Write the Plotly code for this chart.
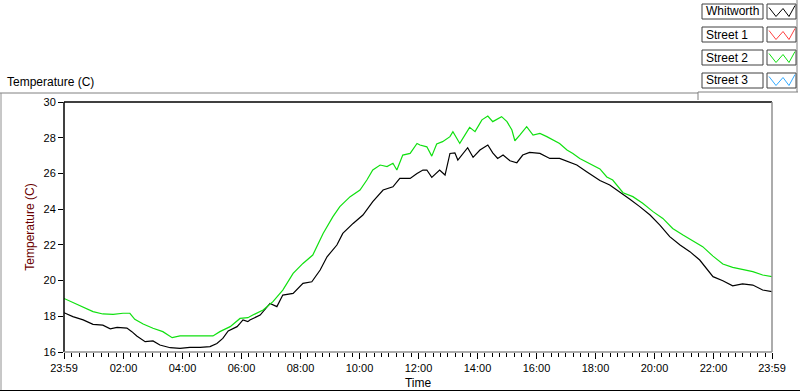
import plotly.graph_objects as go
from datetime import datetime

# ---------------- data ----------------
whitworth_times = ["23:59", "00:17", "00:38", "00:58", "01:18", "01:33", "01:47", "02:07", "02:17", "02:27",
                   "02:44", "03:00", "03:14", "03:35", "03:55", "04:15", "04:36", "04:56", "05:10", "05:22",
                   "05:33", "05:51", "05:57", "06:03", "06:13", "06:17", "06:38", "06:58", "07:12", "07:24",
                   "07:45", "08:05", "08:23", "08:40", "08:54", "09:14", "09:26", "09:47", "10:07", "10:27",
                   "10:48", "11:08", "11:22", "11:43", "11:57", "12:03", "12:09", "12:17", "12:27", "12:43",
                   "12:54", "13:04", "13:14", "13:20", "13:30", "13:40", "13:51", "14:05", "14:21", "14:31",
                   "14:41", "14:52", "15:06", "15:20", "15:32", "15:46", "16:07", "16:27", "16:47", "17:04",
                   "17:22", "17:42", "18:03", "18:09", "18:29", "18:49", "19:10", "19:30", "19:51", "20:11",
                   "20:31", "20:52", "21:12", "21:32", "21:46", "21:59", "22:19", "22:39", "22:59", "23:20",
                   "23:40", "23:59"]
whitworth_temp = [18.2, 17.98, 17.8, 17.55, 17.5, 17.3, 17.38, 17.34, 17.14, 16.9,
                  16.58, 16.62, 16.39, 16.24, 16.2, 16.26, 16.26, 16.3, 16.48, 16.76,
                  17.18, 17.42, 17.6, 17.8, 17.7, 17.79, 18.07, 18.72, 18.54, 19.19,
                  19.28, 19.84, 19.93, 20.59, 21.33, 21.99, 22.64, 23.2, 23.67, 24.42,
                  25.07, 25.25, 25.72, 25.72, 26.0, 26.1, 26.19, 26.19, 25.78, 26.19,
                  25.91, 27.12, 27.15, 26.75, 27.12, 27.44, 26.9, 27.31, 27.59, 27.15,
                  26.84, 27.03, 26.71, 26.6, 27.03, 27.18, 27.12, 26.84, 26.84, 26.65,
                  26.47, 26.1, 25.72, 25.6, 25.35, 24.98, 24.55, 24.14, 23.67, 23.11,
                  22.46, 21.99, 21.62, 21.15, 20.69, 20.22, 19.99, 19.71, 19.81, 19.75,
                  19.47, 19.38]

street2_times = ["23:59", "00:17", "00:38", "00:58", "01:18", "01:39", "01:59", "02:13", "02:23", "02:40",
                 "03:00", "03:20", "03:39", "03:55", "04:21", "05:02", "05:16", "05:37", "05:57", "06:13",
                 "06:23", "06:44", "07:04", "07:24", "07:45", "08:05", "08:25", "08:46", "09:06", "09:20",
                 "09:41", "10:01", "10:15", "10:27", "10:42", "10:56", "11:08", "11:16", "11:28", "11:43",
                 "11:57", "12:03", "12:17", "12:27", "12:37", "12:49", "13:04", "13:10", "13:24", "13:34",
                 "13:44", "13:55", "14:09", "14:21", "14:31", "14:49", "15:00", "15:10", "15:16", "15:26",
                 "15:40", "15:53", "16:07", "16:21", "16:33", "16:47", "17:02", "17:14", "17:28", "17:42",
                 "17:55", "18:09", "18:23", "18:35", "18:56", "19:16", "19:36", "19:57", "20:17", "20:37",
                 "20:58", "21:18", "21:38", "21:59", "22:19", "22:39", "22:59", "23:20", "23:40", "23:59"]
street2_temp = [19.0, 18.78, 18.54, 18.26, 18.13, 18.11, 18.17, 18.17, 17.83, 17.57,
                17.33, 17.14, 16.8, 16.9, 16.9, 16.9, 17.14, 17.42, 17.88, 17.92,
                18.07, 18.35, 18.82, 19.47, 20.4, 20.96, 21.43, 22.64, 23.58, 24.14,
                24.7, 25.07, 25.63, 26.19, 26.47, 26.38, 26.57, 26.19, 27.03, 27.12,
                27.68, 27.59, 27.49, 26.97, 27.65, 27.78, 28.06, 28.34, 27.68, 28.15,
                28.58, 28.34, 29.0, 29.21, 28.9, 29.18, 28.9, 28.43, 27.83, 28.15,
                28.62, 28.15, 28.24, 28.06, 27.87, 27.68, 27.31, 27.12, 26.84, 26.65,
                26.47, 26.25, 25.8, 25.63, 24.92, 24.7, 24.33, 23.86, 23.48, 22.92,
                22.55, 22.23, 21.9, 21.37, 20.93, 20.74, 20.63, 20.5, 20.31, 20.22]

series_names = ["Whitworth", "Street 1", "Street 2", "Street 3"]
series_colors = ["#000000", "#ff4040", "#10e010", "#33aaff"]

x_tick_labels = ["23:59", "02:00", "04:00", "06:00", "08:00", "10:00", "12:00",
                 "14:00", "16:00", "18:00", "20:00", "22:00", "23:59"]
y_ticks = [16, 18, 20, 22, 24, 26, 28, 30]


def to_dt(times):
    out = []
    for i, t in enumerate(times):
        h, m = map(int, t.split(":"))
        day = 1 if (i == 0 and t == "23:59") else 2
        out.append(datetime(2024, 1, day, h, m))
    return out


x_tick_vals = to_dt(x_tick_labels)

# ---------------- layout helpers (pixel -> paper) ----------------
L, R, T, B = 64, 772, 102, 352
W, H = 800, 392


def xp(px):
    return (px - L) / (R - L)


def yp(py):
    return (B - py) / (B - T)


FONT = "Liberation Sans, Arial, sans-serif"

fig = go.Figure()
data_map = {"Whitworth": (whitworth_times, whitworth_temp),
            "Street 2": (street2_times, street2_temp)}
for name, color in zip(series_names, series_colors):
    if name in data_map:
        tt, vv = data_map[name]
        fig.add_trace(go.Scatter(x=to_dt(tt), y=vv, mode="lines", name=name,
                                 line=dict(color=color, width=1.2), showlegend=False))
    else:
        fig.add_trace(go.Scatter(x=[], y=[], mode="lines", name=name,
                                 line=dict(color=color, width=1.2), showlegend=False))

shapes = []
# plot frame: top & left black, bottom & right gray
shapes.append(dict(type="line", xref="paper", yref="paper", x0=0, x1=1, y0=1, y1=1,
                   line=dict(color="#000000", width=1.5)))
shapes.append(dict(type="line", xref="paper", yref="paper", x0=0, x1=0, y0=0, y1=1,
                   line=dict(color="#000000", width=1.5)))
shapes.append(dict(type="line", xref="paper", yref="paper", x0=0, x1=1, y0=0, y1=0,
                   line=dict(color="#909090", width=1.5)))
shapes.append(dict(type="line", xref="paper", yref="paper", x0=1, x1=1, y0=0, y1=1,
                   line=dict(color="#909090", width=1.5)))
# outer frame
shapes.append(dict(type="line", xref="paper", yref="paper", x0=xp(0), x1=xp(698), y0=yp(93), y1=yp(93),
                   line=dict(color="#808080", width=1)))
shapes.append(dict(type="line", xref="paper", yref="paper", x0=xp(698), x1=xp(798), y0=yp(92), y1=yp(92),
                   line=dict(color="#808080", width=1)))
shapes.append(dict(type="line", xref="paper", yref="paper", x0=xp(698), x1=xp(698), y0=yp(92), y1=yp(100),
                   line=dict(color="#808080", width=1)))
shapes.append(dict(type="line", xref="paper", yref="paper", x0=xp(797), x1=xp(797), y0=yp(0), y1=yp(92),
                   line=dict(color="#808080", width=1)))
shapes.append(dict(type="line", xref="paper", yref="paper", x0=xp(1), x1=xp(1), y0=yp(93), y1=yp(390.5),
                   line=dict(color="#909090", width=1)))
shapes.append(dict(type="line", xref="paper", yref="paper", x0=xp(0), x1=xp(800), y0=yp(390.5), y1=yp(390.5),
                   line=dict(color="#000000", width=1)))

annotations = []
# custom legend
row_tops = [4, 27, 50, 73]
for name, color, top in zip(series_names, series_colors, row_tops):
    bot = top + 15
    shapes.append(dict(type="rect", xref="paper", yref="paper", x0=xp(702), x1=xp(763), y0=yp(bot), y1=yp(top),
                       line=dict(color="#404040", width=1), fillcolor="white"))
    shapes.append(dict(type="rect", xref="paper", yref="paper", x0=xp(767), x1=xp(796), y0=yp(bot), y1=yp(top),
                       line=dict(color="#404040", width=1), fillcolor="white"))
    cy = top + 7.5
    pts = [(769, cy - 4), (776, cy + 5), (783, cy - 3), (789, cy + 5), (795, cy - 6)]
    path = "M " + " L ".join(f"{xp(a):.5f},{yp(b):.5f}" for a, b in pts)
    shapes.append(dict(type="path", xref="paper", yref="paper", path=path,
                       line=dict(color=color, width=1)))
    annotations.append(dict(text=name, xref="paper", yref="paper", x=xp(704), y=yp(cy),
                            xanchor="left", yanchor="middle", showarrow=False,
                            font=dict(family=FONT, size=12, color="#000000")))

annotations.append(dict(text="Temperature (C)", xref="paper", yref="paper", x=xp(5), y=yp(82),
                        xanchor="left", yanchor="middle", showarrow=False,
                        font=dict(family=FONT, size=12, color="#000000")))

fig.update_layout(
    width=W, height=H, autosize=False,
    margin=dict(l=L, r=W - R, t=T, b=H - B, pad=0),
    paper_bgcolor="white", plot_bgcolor="white",
    font=dict(family=FONT, size=11, color="#000000"),
    shapes=shapes, annotations=annotations,
    showlegend=False,
    xaxis=dict(range=[x_tick_vals[0], x_tick_vals[-1]], tickmode="array",
               tickvals=x_tick_vals, ticktext=x_tick_labels, automargin=False,
               ticks="outside", ticklen=6, tickcolor="#000000", tickwidth=1,
               showgrid=False, zeroline=False, showline=False,
               tickfont=dict(family=FONT, size=11, color="#000000"),
               minor=dict(ticks="outside", ticklen=4, tickcolor="#000000", tickwidth=1,
                          dtick=15 * 60 * 1000, tick0="2024-01-02 00:00", showgrid=False),
               title=dict(text="Time", standoff=5,
                          font=dict(family=FONT, size=12, color="#000000"))),
    yaxis=dict(range=[16, 30], tickmode="array", tickvals=y_ticks, automargin=False,
               ticks="outside", ticklen=5, tickcolor="#000000", tickwidth=1,
               showgrid=False, zeroline=False, showline=False,
               tickfont=dict(family=FONT, size=11, color="#000000"),
               title=dict(text="Temperature (C)", standoff=6,
                          font=dict(family=FONT, size=12, color="#6a0000"))),
)

fig.write_html("out.html", config={"displayModeBar": False},
               post_script="document.body.style.margin='0';document.body.style.overflow='hidden';")
